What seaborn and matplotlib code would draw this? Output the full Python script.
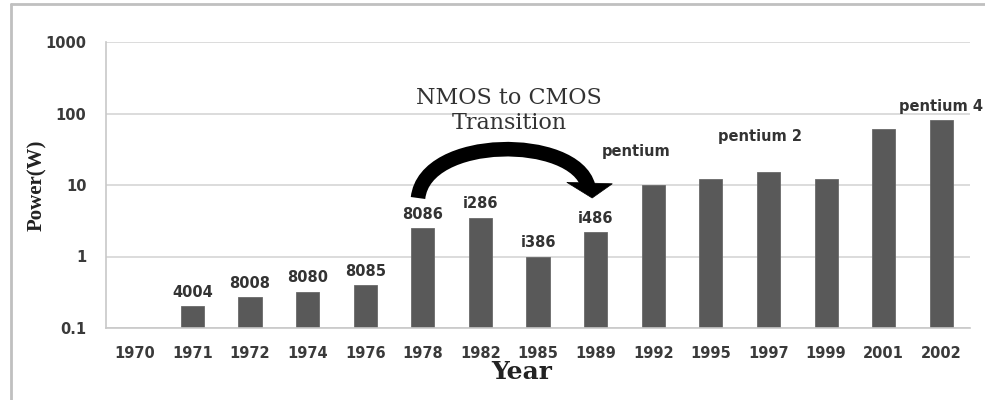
import matplotlib
matplotlib.use("Agg")
import matplotlib.pyplot as plt
import seaborn as sns
import numpy as np
import pandas as pd
from matplotlib.patches import PathPatch, Polygon
from matplotlib.path import Path
from matplotlib.lines import Line2D

# ---- data ----
years = ["1970", "1971", "1972", "1974", "1976", "1978", "1982", "1985",
         "1989", "1992", "1995", "1997", "1999", "2001", "2002"]
power = [np.nan, 0.2, 0.27, 0.32, 0.4, 2.5, 3.5, 1.0, 2.2, 10, 12, 15, 12, 60, 80]
chips = ["", "4004", "8008", "8080", "8085", "8086", "i286", "i386", "i486",
         "pentium", "", "pentium 2", "", "", "pentium 4"]
yticks = [0.1, 1, 10, 100, 1000]
ytick_labels = ["0.1", "1", "10", "100", "1000"]

df = pd.DataFrame({"Year": years, "Power": power})

sns.set_style("white")
plt.rcParams["font.family"] = ["DejaVu Sans"]

fig = plt.figure(figsize=(9.85, 4.0), dpi=100)
ax = fig.add_axes([0.1076, 0.18, 0.8772, 0.715])
ax.set_yscale("log")

sns.barplot(data=df, x="Year", y="Power", order=years, color="#595959",
            saturation=1, width=0.4, ax=ax, edgecolor="#6a6a6a", linewidth=0.6)

ax.set_ylim(0.1, 1000)
ax.set_xlim(-0.5, len(years) - 0.5)
ax.set_yticks(yticks)
ax.set_yticklabels(ytick_labels)
ax.yaxis.set_minor_locator(matplotlib.ticker.NullLocator())
ax.set_xticks(np.arange(-0.5, len(years) + 0.5, 1.0), minor=True)

ax.grid(axis="y", color="#d9d9d9", linewidth=1.3)
ax.set_axisbelow(True)
for s in ["top", "right"]:
    ax.spines[s].set_visible(False)
for s in ["left", "bottom"]:
    ax.spines[s].set_color("#c8c8c8")
    ax.spines[s].set_linewidth(1.2)

ax.tick_params(axis="x", which="major", length=0, pad=13, labelsize=10.5,
               labelcolor="#3a3a3a")
ax.tick_params(axis="x", which="minor", length=4, color="#c8c8c8", width=1.2,
               direction="out")
ax.tick_params(axis="y", which="major", length=5, color="#d9d9d9", width=1.3,
               pad=9, labelsize=10.5, labelcolor="#3a3a3a")
for lab in ax.get_xticklabels() + ax.get_yticklabels():
    lab.set_fontweight("bold")

ax.set_xlabel("Year", fontsize=18, fontweight="bold", family="DejaVu Serif",
              color="#222222")
ax.xaxis.set_label_coords(0.481, -0.154)
ax.xaxis.label.set_verticalalignment("center")
ax.set_ylabel("Power(W)", fontsize=15, fontweight="bold",
              family="Liberation Serif", color="#222222")
ax.yaxis.set_label_coords(-0.08, 0.5)
ax.yaxis.label.set_verticalalignment("center")

# chip labels above bars
offsets = {9: (-12, 24), 11: (-6, 26)}
for i, (lab, v) in enumerate(zip(chips, power)):
    if not lab or np.isnan(v):
        continue
    dx, dy = offsets.get(i, (0, 10))
    ax.annotate(lab, (i, v), xytext=(dx, dy), textcoords="offset points",
                ha="center", va="center", fontsize=10.5, fontweight="bold",
                color="#333333")

# NMOS -> CMOS transition annotation
ax.text(6.5, 110, "NMOS to CMOS\nTransition", ha="center", va="center",
        fontsize=16, family="DejaVu Serif", color="#333333",
        linespacing=1.2)
body = Path([(4.917, 6.58), (5.04, 50), (7.64, 50), (7.87, 9.6)],
            [Path.MOVETO, Path.CURVE4, Path.CURVE4, Path.CURVE4])
ax.add_patch(PathPatch(body, facecolor="none", edgecolor="black", lw=10.5,
                       capstyle="butt"))
ax.add_patch(Polygon([(7.50, 10.9), (8.29, 10.4), (7.94, 6.58)],
                     closed=True, facecolor="black", edgecolor="black", lw=0.5))

# outer frame (left & top)
fig.add_artist(Line2D([0.0115, 0.0115], [0, 0.99], transform=fig.transFigure,
                      color="#c0c0c0", linewidth=2))
fig.add_artist(Line2D([0.0115, 1.0], [0.99, 0.99], transform=fig.transFigure,
                      color="#c0c0c0", linewidth=2))

fig.savefig("out.png", dpi=100)
